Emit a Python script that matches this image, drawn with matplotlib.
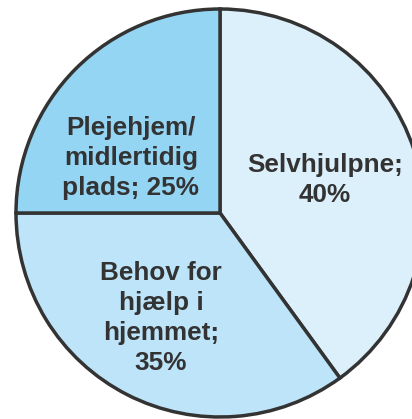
import matplotlib as mpl
mpl.use("Agg")
import matplotlib.pyplot as plt

mpl.rcParams.update({
    "font.family": "sans-serif",
    "font.sans-serif": ["Liberation Sans", "Arial", "DejaVu Sans"],
})

labels = ["Selvhjulpne;\n40%", "Behov for\nhjælp i\nhjemmet;\n35%", "Plejehjem/\nmidlertidig\nplads; 25%"]
shares = [40, 35, 25]
colors = ["#dcf0fb", "#bde4f8", "#95d5f4"]
# label centres in pixel offsets from pie centre (x right, y up)
label_pos = [(105, 33), (-59, -105), (-89, 55)]

W, H = 412, 419
cx, cy, R = 220, 213, 204

fig = plt.figure(figsize=(W / 100, H / 100), dpi=100)
ax = fig.add_axes([0, 0, 1, 1])
ax.pie(shares, colors=colors, startangle=90, counterclock=False, radius=R,
       wedgeprops=dict(edgecolor="#333333", linewidth=2.5))
ax.set_xlim(-cx, W - cx)
ax.set_ylim(-(H - cy), cy)
ax.set_aspect("equal")
ax.axis("off")

for txt, (x, y) in zip(labels, label_pos):
    ax.text(x, y, txt, ha="center", va="center", fontsize=18.8, fontweight="bold",
            color="#333333", linespacing=1.3)

fig.savefig("out.png", dpi=100)
